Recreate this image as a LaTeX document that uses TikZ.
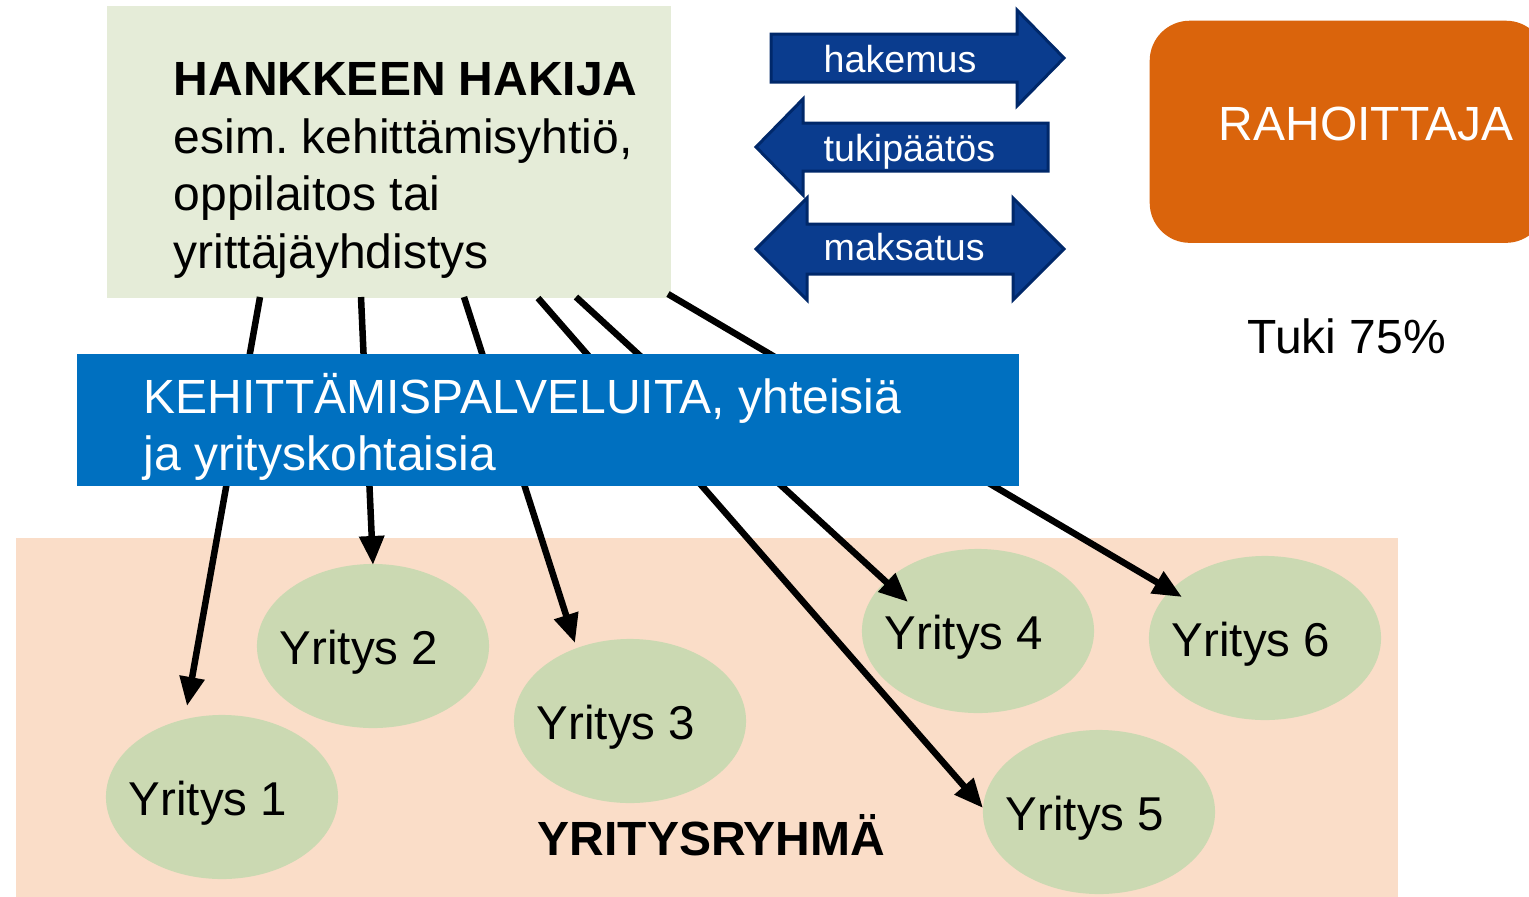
\documentclass[tikz,border=0pt]{standalone}
\usepackage{fontspec}
\setmainfont{Liberation Sans}
\usetikzlibrary{arrows.meta,shapes.geometric}
\definecolor{hakijafill}{HTML}{E5ECD8}
\definecolor{kehitblue}{HTML}{0070C0}
\definecolor{navyfill}{HTML}{0A3C8E}
\definecolor{navyline}{HTML}{00286A}
\definecolor{orangefill}{HTML}{DA640C}
\definecolor{pinkbg}{HTML}{FADDC8}
\definecolor{compfill}{HTML}{CBD9B2}
\frenchspacing
\tikzset{
  bigtxt/.style={font=\fontsize{13.65pt}{16.4pt}\selectfont, inner sep=0pt, anchor=base west},
  smalltxt/.style={font=\fontsize{10.7pt}{12.8pt}\selectfont, text=white, inner sep=0pt, anchor=base west},
  comp/.style={ellipse, fill=compfill, draw=none, minimum width=2.32cm, minimum height=1.64cm, inner sep=0pt},
  comptxt/.style={font=\fontsize{13.5pt}{16.4pt}\selectfont, inner sep=0pt, anchor=base},
  blockarrow/.style={fill=navyfill, draw=navyline, line width=0.03cm, line join=miter},
  link/.style={line width=0.065cm, -{Triangle[length=0.29cm,width=0.24cm]}},
}
\begin{document}
\begin{tikzpicture}[x=0.01cm,y=-0.01cm]
\clip (0,0) rectangle (1529,896);
\fill[white] (0,0) rectangle (1529,896);
% group background
\node[fill=pinkbg, minimum width=13.81cm, minimum height=3.7cm, inner sep=0pt, anchor=north west] (ryhma) at (15,537) {};
% companies
\node[comp] (e1) at (222,797) {};
\node[comp] (e2) at (373,646) {};
\node[comp] (e3) at (630,721) {};
\node[comp] (e4) at (978,631) {};
\node[comp] (e5) at (1099,812) {};
\node[comp] (e6) at (1265,638) {};
% applicant box
\node[fill=hakijafill, minimum width=5.64cm, minimum height=2.92cm, inner sep=0pt, anchor=north west] (hakija) at (106,5) {};
% link endpoints
\coordinate (s1) at (260,297);
\coordinate (s2) at (361,297);
\coordinate (s3) at (464,297);
\coordinate (s4) at (538,298);
\coordinate (s5) at (576,297);
\coordinate (s6) at (668,294);
\coordinate (t1) at (187,706);
\coordinate (t2) at (373,565);
\coordinate (t3) at (575,643);
\coordinate (t4) at (908,602);
\coordinate (t5) at (983,808);
\coordinate (t6) at (1182,597);
\draw[link] (s1) -- (t1);
\draw[link] (s2) -- (t2);
\draw[link] (s3) -- (t3);
\draw[link] (s4) -- (t5);
\draw[link] (s5) -- (t4);
\draw[link] (s6) -- (t6);
% services bar
\node[fill=kehitblue, minimum width=9.42cm, minimum height=1.32cm, inner sep=0pt, anchor=north west] (kehit) at (76,353) {};
% funder
\node[fill=orangefill, rounded corners=0.4cm, minimum width=3.96cm, minimum height=2.22cm, inner sep=0pt, anchor=north west] (rahoittaja) at (1149,20) {};
% block arrows
\draw[blockarrow] (771,34) -- (1017,34) -- (1017,10) -- (1064,58) -- (1017,106) -- (1017,82) -- (771,82) -- cycle;
\draw[blockarrow] (1048,123) -- (803,123) -- (803,99) -- (756,147) -- (803,195) -- (803,171) -- (1048,171) -- cycle;
\draw[blockarrow] (756,249) -- (807,198) -- (807,224) -- (1013,224) -- (1013,198) -- (1064,249) -- (1013,300) -- (1013,274) -- (807,274) -- (807,300) -- cycle;
\node[smalltxt] (hakemus) at (823,72) {hakemus};
\node[smalltxt] (tukipaatos) at (823,161) {tukipäätös};
\node[smalltxt] (maksatus) at (823,260) {maksatus};
% texts
\node[bigtxt, font=\fontsize{13.65pt}{16.4pt}\selectfont\bfseries] (h1) at (173,95) {HANKKEEN HAKIJA};
\node[bigtxt] (h2) at (173,153) {esim. kehittämisyhtiö,};
\node[bigtxt] (h3) at (173,210) {oppilaitos tai};
\node[bigtxt] (h4) at (173,268) {yrittäjäyhdistys};
\node[bigtxt, text=white] (k1) at (143,413) {KEHITTÄMISPALVELUITA, yhteisiä};
\node[bigtxt, text=white] (k2) at (143,470) {ja yrityskohtaisia};
\node[bigtxt, text=white] (r1) at (1218,140) {RAHOITTAJA};
\node[bigtxt] (tuki) at (1247,353) {Tuki 75\%};
\node[bigtxt, font=\fontsize{13.65pt}{16.4pt}\selectfont\bfseries] (ryhmatxt) at (537,855) {YRITYSRYHMÄ};
\node[comptxt] (y1) at ([xshift=-0.14cm,yshift=-0.18cm]e1.center) {Yritys 1};
\node[comptxt] (y2) at ([xshift=-0.14cm,yshift=-0.18cm]e2.center) {Yritys 2};
\node[comptxt] (y3) at ([xshift=-0.14cm,yshift=-0.18cm]e3.center) {Yritys 3};
\node[comptxt] (y4) at ([xshift=-0.14cm,yshift=-0.18cm]e4.center) {Yritys 4};
\node[comptxt] (y5) at ([xshift=-0.14cm,yshift=-0.18cm]e5.center) {Yritys 5};
\node[comptxt] (y6) at ([xshift=-0.14cm,yshift=-0.18cm]e6.center) {Yritys 6};
\end{tikzpicture}
\end{document}
